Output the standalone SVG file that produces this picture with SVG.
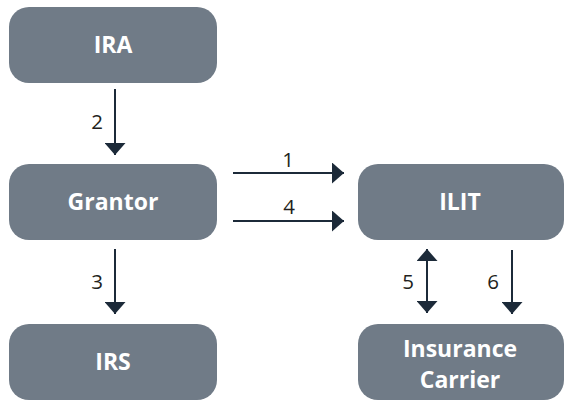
<svg xmlns="http://www.w3.org/2000/svg" width="564" height="400" viewBox="0 0 564 400">
<defs>
<style>
.box{fill:#707b87}
.lbl{font-family:"Open Sans","Liberation Sans",sans-serif;font-weight:bold;font-size:23px;fill:#ffffff;text-anchor:middle}
.num{font-family:"Open Sans","Liberation Sans",sans-serif;font-size:20.5px;fill:#231f20;text-anchor:middle}
.con{stroke:#1c2a39;stroke-width:2;fill:none}
</style>
<marker id="ah" viewBox="0 0 12 21" refX="12" refY="10.5" markerWidth="12" markerHeight="21" markerUnits="userSpaceOnUse" orient="auto-start-reverse">
<path d="M0,0 L12,10.5 L0,21 Z" fill="#1c2a39"/>
</marker>
</defs>
<rect width="564" height="400" fill="#ffffff"/>
<g id="ira"><rect class="box" x="9" y="7" width="208" height="76" rx="20"/><text class="lbl" x="113" y="53">IRA</text></g>
<g id="grantor"><rect class="box" x="9" y="164" width="208" height="76" rx="20"/><text class="lbl" x="113" y="210">Grantor</text></g>
<g id="irs"><rect class="box" x="9" y="324" width="208" height="76" rx="20"/><text class="lbl" x="113" y="370">IRS</text></g>
<g id="ilit"><rect class="box" x="358" y="164" width="206" height="76" rx="20"/><text class="lbl" x="460" y="210">ILIT</text></g>
<g id="carrier"><rect class="box" x="358" y="324" width="206" height="76" rx="20"/><text class="lbl" x="460" y="357">Insurance</text><text class="lbl" x="460" y="388">Carrier</text></g>
<g id="connectors">
<line class="con" x1="115" y1="89" x2="115" y2="155" marker-end="url(#ah)"/>
<line class="con" x1="233" y1="173" x2="344" y2="173" marker-end="url(#ah)"/>
<line class="con" x1="233" y1="221" x2="344" y2="221" marker-end="url(#ah)"/>
<line class="con" x1="115" y1="249" x2="115" y2="314" marker-end="url(#ah)"/>
<line class="con" x1="427" y1="249" x2="427" y2="313" marker-start="url(#ah)" marker-end="url(#ah)"/>
<line class="con" x1="512" y1="250" x2="512" y2="314" marker-end="url(#ah)"/>
<text class="num" x="97" y="129">2</text>
<text class="num" x="288" y="167">1</text>
<text class="num" x="289" y="214">4</text>
<text class="num" x="97" y="289">3</text>
<text class="num" x="408" y="289">5</text>
<text class="num" x="493" y="289">6</text>
</g>
</svg>
